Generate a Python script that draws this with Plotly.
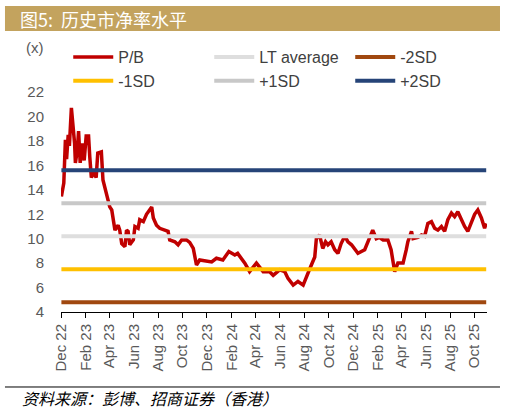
import plotly.graph_objects as go

dates = [
    "2022-12-02", "2022-12-08", "2022-12-12", "2022-12-15", "2022-12-19", "2022-12-22",
    "2022-12-27", "2022-12-31", "2023-01-04", "2023-01-06", "2023-01-11", "2023-01-14",
    "2023-01-18", "2023-01-23", "2023-01-28", "2023-02-02", "2023-02-08", "2023-02-11",
    "2023-02-15", "2023-02-21", "2023-02-27", "2023-03-03", "2023-03-12", "2023-03-16",
    "2023-03-20", "2023-03-27", "2023-04-02", "2023-04-07", "2023-04-11", "2023-04-15",
    "2023-04-23", "2023-04-27", "2023-05-02", "2023-05-10", "2023-05-14", "2023-05-18",
    "2023-05-22", "2023-05-31", "2023-06-04", "2023-06-12", "2023-06-16", "2023-06-25",
    "2023-07-03", "2023-07-11", "2023-07-16", "2023-07-20", "2023-07-28", "2023-08-05",
    "2023-08-18", "2023-08-26", "2023-08-30", "2023-09-12", "2023-09-20", "2023-09-29",
    "2023-10-11", "2023-10-19", "2023-10-28", "2023-11-05", "2023-11-13", "2023-11-30",
    "2023-12-13", "2023-12-25", "2024-01-10", "2024-01-25", "2024-02-09", "2024-02-16",
    "2024-03-05", "2024-03-17", "2024-04-03", "2024-04-20", "2024-05-06", "2024-05-15",
    "2024-05-31", "2024-06-13", "2024-06-21", "2024-07-04", "2024-07-16", "2024-07-29",
    "2024-08-06", "2024-08-14", "2024-08-27", "2024-08-31", "2024-09-08", "2024-09-16",
    "2024-09-23", "2024-09-29", "2024-10-07", "2024-10-16", "2024-10-24", "2024-11-01",
    "2024-11-10", "2024-11-18", "2024-11-27", "2024-12-13", "2024-12-30", "2025-01-07",
    "2025-01-15", "2025-01-19", "2025-01-28", "2025-02-05", "2025-02-14", "2025-02-26",
    "2025-03-06", "2025-03-11", "2025-03-15", "2025-03-23", "2025-04-05", "2025-04-13",
    "2025-04-17", "2025-04-26", "2025-04-30", "2025-05-12", "2025-05-21", "2025-05-29",
    "2025-06-06", "2025-06-15", "2025-06-23", "2025-07-01", "2025-07-10", "2025-07-18",
    "2025-07-26", "2025-08-04", "2025-08-12", "2025-08-20", "2025-08-29", "2025-09-06",
    "2025-09-14", "2025-09-23", "2025-10-01", "2025-10-09", "2025-10-18", "2025-10-26",
    "2025-10-30",
]
pb = [
    13.45, 14.55, 18.1, 16.5, 18.5, 17.6,
    20.7, 19.5, 17.8, 16.2, 17.3, 18.8,
    16.2, 17.8, 16.4, 18.4, 18.4, 16.7,
    15.0, 15.4, 15.0, 17.0, 17.1, 14.8,
    14.3, 13.3, 12.6, 12.35, 11.25, 10.7,
    11.1, 10.7, 9.6, 9.35, 10.7, 10.6,
    9.5, 9.9, 11.0, 10.85, 11.55, 11.4,
    12.0, 12.35, 12.6, 11.7, 11.1, 10.85,
    10.7, 10.6, 9.9, 9.75, 9.5, 9.9,
    9.9, 9.7, 9.2, 7.85, 8.26, 8.2,
    8.1, 8.4, 8.26, 8.95, 8.67, 8.8,
    8.0, 7.3, 8.0, 7.3, 7.3, 7.0,
    7.45, 7.3, 6.75, 6.2, 6.5, 6.2,
    6.9, 7.5, 8.5, 10.0, 10.3, 9.2,
    9.75, 9.5, 9.75, 9.1, 8.8, 9.6,
    10.2, 9.75, 9.5, 8.8, 9.1, 9.75,
    10.45, 10.7, 10.0, 10.1, 9.9, 9.9,
    9.1, 8.0, 7.3, 8.0, 8.0, 9.1,
    9.75, 10.6, 10.0, 10.1, 10.3, 10.2,
    11.25, 11.4, 10.85, 10.7, 11.0, 10.6,
    11.55, 12.1, 11.8, 12.2, 11.55, 11.0,
    10.6, 11.4, 12.0, 12.35, 11.7, 10.85,
    11.25,
]

band_names = ["LT average", "-2SD", "-1SD", "+1SD", "+2SD"]
band_values = [10.2, 4.8, 7.5, 12.9, 15.6]
band_colors = ["#DEDEDE", "#A0480F", "#FFC000", "#C8C8C8", "#264478"]
y_ticks = [4, 6, 8, 10, 12, 14, 16, 18, 20, 22]

fig = go.Figure()
fig.add_trace(go.Scatter(x=dates, y=pb, name="P/B", mode="lines",
                         line=dict(color="#C00000", width=3.5)))
for name, val, col in zip(band_names, band_values, band_colors):
    fig.add_trace(go.Scatter(x=[dates[0], dates[-1]], y=[val, val], name=name,
                             mode="lines", line=dict(color=col, width=4)))

# plot area runs up to the legend; the y range is stretched so 22 sits below it
fig.update_layout(
    width=506, height=413,
    margin=dict(l=61, r=19, t=40, b=101),
    plot_bgcolor="white", paper_bgcolor="white",
    font=dict(family="Liberation Sans, Arial, sans-serif", size=15, color="#595959"),
    showlegend=True,
    legend=dict(orientation="h", x=0.017, y=1.0, xanchor="left", yanchor="top",
                entrywidth=86, entrywidthmode="pixels", traceorder="normal",
                bgcolor="rgba(0,0,0,0)", font=dict(size=16, color="#404040"),
                itemwidth=40),
    xaxis=dict(type="date", range=["2022-12-01", "2025-11-01"],
               tick0="2022-12-01", dtick="M2", tickformat="%b %y", tickangle=-90,
               ticks="outside", ticklen=5, tickcolor="black", showline=True,
               linecolor="black", linewidth=1, showgrid=False, zeroline=False,
               tickfont=dict(size=15, color="#595959")),
    yaxis=dict(range=[4, 26.26], tickvals=y_ticks, showgrid=False, zeroline=False,
               showline=False, ticks="", ticklabelstandoff=16,
               tickfont=dict(size=15, color="#595959")),
    shapes=[
        dict(type="rect", xref="paper", yref="paper", x0=-0.1315, x1=1.0305,
             y0=1.033, y1=1.125, fillcolor="#C3A35E", line=dict(width=0), layer="below"),
        dict(type="line", xref="paper", yref="paper", x0=-0.1315, x1=1.0305,
             y0=-0.2757, y1=-0.2757, line=dict(color="black", width=1)),
    ],
    annotations=[
        dict(text="图5:  历史市净率水平", xref="paper", yref="paper", x=-0.101, y=1.079,
             xanchor="left", yanchor="middle", showarrow=False,
             font=dict(family="Noto Sans CJK SC", size=18, color="white")),
        dict(text="(x)", xref="paper", yref="paper", x=-0.035, y=0.974,
             xanchor="right", yanchor="middle", showarrow=False,
             font=dict(size=15, color="#595959")),
        dict(text="<i>资料来源：彭博、招商证券（香港）</i>", xref="paper", yref="paper",
             x=-0.096, y=-0.316, xanchor="left", yanchor="middle", showarrow=False,
             font=dict(family="Noto Sans CJK SC", size=16, color="black")),
    ],
)

fig.write_html("out.html", config={"displayModeBar": False},
               post_script="document.body.style.margin = '0';")
